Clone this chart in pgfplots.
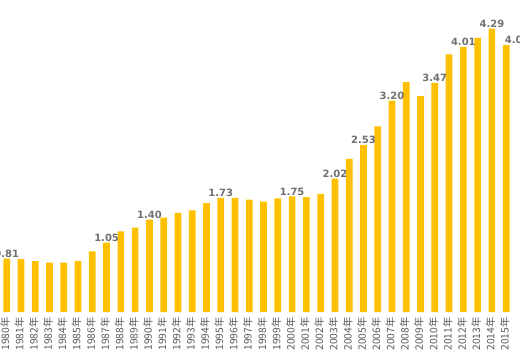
\documentclass[border=0pt]{standalone}
\usepackage{pgfplots}
\pgfplotsset{compat=1.18}
\usepackage{pgfplotstable}
\usepackage{fontspec}
\newfontfamily\cjk{Noto Sans CJK JP}
\newfontfamily\lab{DejaVu Sans}
\definecolor{bar}{HTML}{FFC000}
\definecolor{ticktxt}{HTML}{595959}
\definecolor{labtxt}{HTML}{707070}
\pgfplotstableread{
i v
0 0.81
1 0.80
2 0.77
3 0.75
4 0.75
5 0.77
6 0.92
7 1.05
8 1.22
9 1.28
10 1.40
11 1.43
12 1.50
13 1.54
14 1.65
15 1.73
16 1.73
17 1.70
18 1.67
19 1.72
20 1.75
21 1.74
22 1.79
23 2.02
24 2.32
25 2.53
26 2.81
27 3.20
28 3.48
29 3.27
30 3.47
31 3.90
32 4.01
33 4.15
34 4.29
35 4.04
}\datatable
\begin{document}
\begin{tikzpicture}
\begin{axis}[
  x=14.266pt, y=66.06pt,
  xmin=-0.47, xmax=35.97, ymin=0, ymax=4.723,
  clip=false,
  axis lines=left,
  axis line style={draw=none,-},
  ytick=\empty,
  xtick={0,...,35},
  xticklabels={1980年,1981年,1982年,1983年,1984年,1985年,1986年,1987年,1988年,1989年,1990年,1991年,1992年,1993年,1994年,1995年,1996年,1997年,1998年,1999年,2000年,2001年,2002年,2003年,2004年,2005年,2006年,2007年,2008年,2009年,2010年,2011年,2012年,2013年,2014年,2015年},
  tick style={draw=none},
  major tick length=0pt,
  xticklabel style={rotate=90, anchor=east, font=\cjk\fontsize{10.3}{10}\selectfont, text=ticktxt, inner sep=0pt, xshift=-5pt, yshift=1.5pt},
]
\addplot[ybar, bar width=6.7pt, fill=bar, draw=none] table[x=i, y=v] {\datatable};
\addplot[draw=none, mark=none, nodes near coords, point meta=explicit symbolic,
  nodes near coords style={anchor=south, inner sep=1pt, font=\lab\bfseries\fontsize{10}{10}\selectfont, text=labtxt}]
  coordinates {(0,0.81)[0.81] (7,1.05)[1.05] (10,1.40)[1.40] (15,1.73)[1.73] (20,1.75)[1.75] (23,2.02)[2.02] (25,2.53)[2.53] (27,3.20)[3.20] (30,3.47)[3.47] (32,4.01)[4.01] (34,4.29)[4.29]};
\addplot[draw=none, mark=none, nodes near coords, point meta=explicit symbolic,
  nodes near coords style={anchor=south, inner sep=1pt, xshift=11pt, font=\lab\bfseries\fontsize{10}{10}\selectfont, text=labtxt}]
  coordinates {(35,4.04)[4.04]};
\coordinate (BL) at (axis cs:-0.47,-0.7266);
\coordinate (TR) at (axis cs:35.97,4.723);
\end{axis}
\pgfresetboundingbox
\useasboundingbox (BL) rectangle (TR);
\end{tikzpicture}
\end{document}
